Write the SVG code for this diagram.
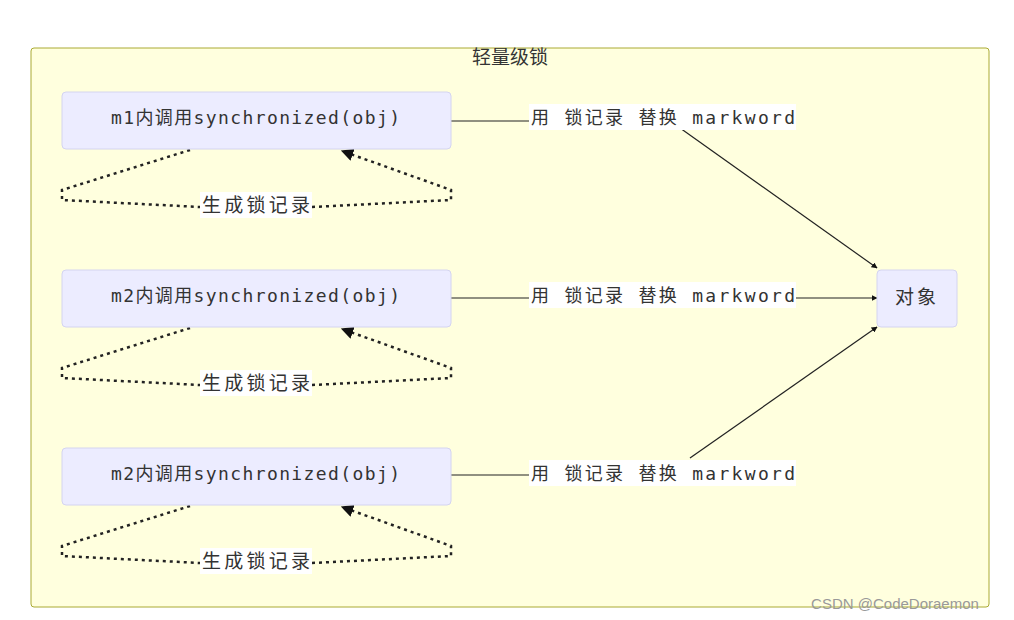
<svg xmlns="http://www.w3.org/2000/svg" width="1014" height="620" viewBox="0 0 1014 620">
<style>
.node rect{fill:#ececff;stroke:#d4d4f0;stroke-width:1}
.t{font-family:"DejaVu Sans Mono","Noto Sans CJK SC",monospace;font-size:18px;fill:#333}
.c{font-family:"Noto Sans CJK SC",sans-serif;font-size:19px;fill:#333}
.e{fill:none;stroke:#222;stroke-width:1.2}
.d{fill:none;stroke:#222;stroke-width:2.5;stroke-dasharray:3 4}
.lb{fill:#fff}
</style>
<defs>
<marker id="a" viewBox="0 0 10 10" refX="9" refY="5" markerWidth="5" markerHeight="5" orient="auto"><path d="M0,0L10,5L0,10z" fill="#111"/></marker>
<marker id="b" viewBox="0 0 10 10" refX="9" refY="5" markerWidth="5" markerHeight="5" orient="auto"><path d="M0,0L10,5L0,10z" fill="#111"/></marker>
</defs>
<rect width="1014" height="620" fill="#fff"/>
<g id="cluster">
<rect x="31" y="48" width="958" height="559" rx="3" fill="#ffffde" stroke="#aaaa33"/>
<text x="510" y="64" text-anchor="middle" class="c">轻量级锁</text>
</g>
<g id="connectors">
<path class="e" d="M451,121H530"/>
<path class="e" d="M680,128L877,268" marker-end="url(#b)"/>
<path class="e" d="M451,298H530"/>
<path class="e" d="M796,298H877" marker-end="url(#b)"/>
<path class="e" d="M451,475H530"/>
<path class="e" d="M690,458L877,327" marker-end="url(#b)"/>
<path class="d" d="M190,150L62,190V200L200,207"/><path class="d" d="M312,207L451,200V190L342,151" marker-end="url(#a)"/>
<path class="d" d="M190,328L62,368V378L200,385"/><path class="d" d="M312,385L451,378V368L342,329" marker-end="url(#a)"/>
<path class="d" d="M190,506L62,546V556L200,563"/><path class="d" d="M312,563L451,556V546L342,507" marker-end="url(#a)"/>
<g id="labels">
<rect class="lb" x="529" y="104" width="267" height="26"/><text class="t" x="531" y="124" textLength="264" lengthAdjust="spacing">用 锁记录 替换 markword</text>
<rect class="lb" x="529" y="282" width="267" height="26"/><text class="t" x="531" y="302" textLength="264" lengthAdjust="spacing">用 锁记录 替换 markword</text>
<rect class="lb" x="529" y="460" width="267" height="26"/><text class="t" x="531" y="480" textLength="264" lengthAdjust="spacing">用 锁记录 替换 markword</text>
<rect class="lb" x="200" y="192" width="112" height="26"/><text class="c" x="202" y="212" textLength="108" lengthAdjust="spacing">生成锁记录</text>
<rect class="lb" x="200" y="370" width="112" height="26"/><text class="c" x="202" y="390" textLength="108" lengthAdjust="spacing">生成锁记录</text>
<rect class="lb" x="200" y="548" width="112" height="26"/><text class="c" x="202" y="568" textLength="108" lengthAdjust="spacing">生成锁记录</text>
</g>
</g>
<g id="n1" class="node"><rect x="62" y="92" width="389" height="57" rx="4"/><text class="t" x="111" y="124" textLength="289" lengthAdjust="spacing">m1内调用synchronized(obj)</text></g>
<g id="n2" class="node"><rect x="62" y="270" width="389" height="57" rx="4"/><text class="t" x="111" y="302" textLength="289" lengthAdjust="spacing">m2内调用synchronized(obj)</text></g>
<g id="n3" class="node"><rect x="62" y="448" width="389" height="57" rx="4"/><text class="t" x="111" y="480" textLength="289" lengthAdjust="spacing">m2内调用synchronized(obj)</text></g>
<g id="obj" class="node"><rect x="877" y="270" width="80" height="57" rx="4"/><text class="c" x="917" y="304" text-anchor="middle" letter-spacing="3">对象</text></g>
<text x="895" y="609" text-anchor="middle" font-family="Liberation Sans,sans-serif" font-size="15" fill="#999">CSDN @CodeDoraemon</text>
</svg>
